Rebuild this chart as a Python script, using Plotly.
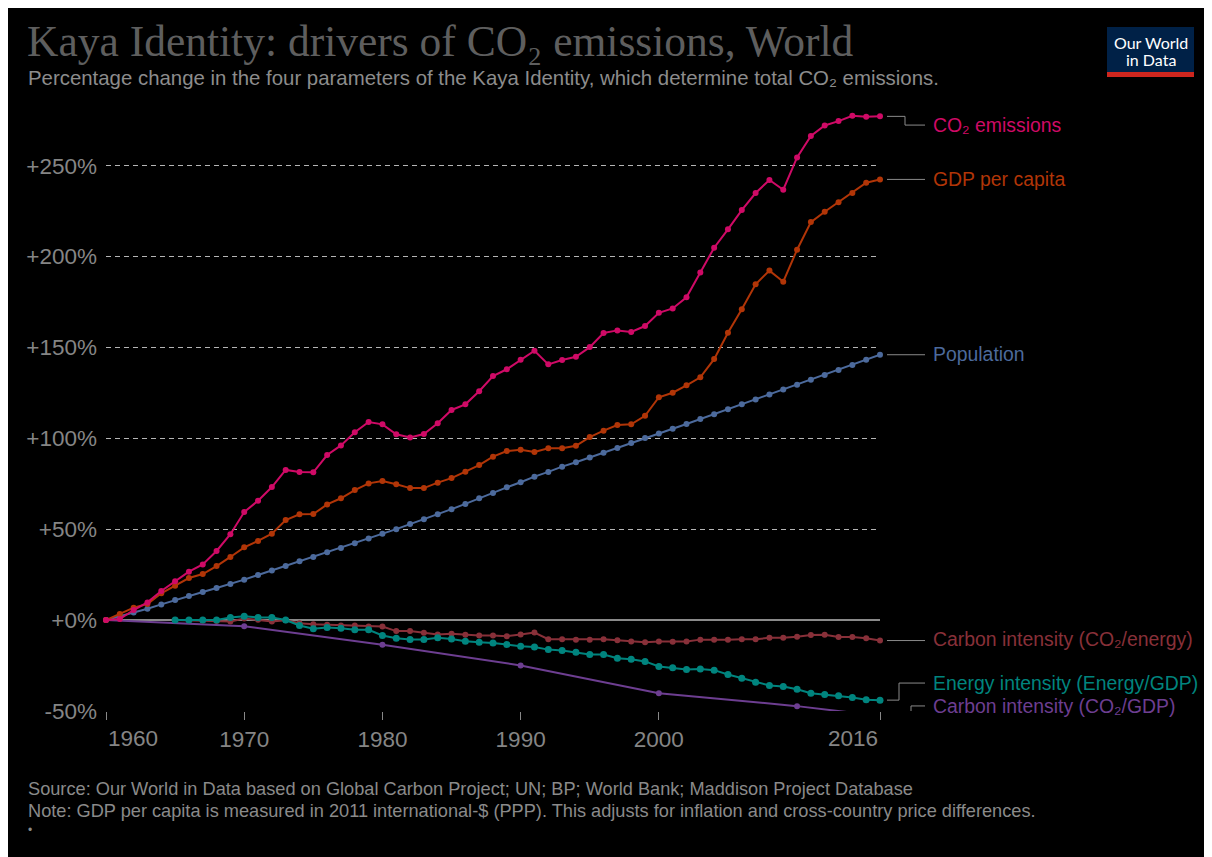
import plotly.graph_objects as go

# ---------------- data (percentage change relative to first year) ----------------
years = list(range(1960, 2017))
co2_emissions = [0, 0.5, 5.5, 9.7, 16.0, 21.3, 26.6, 30.6, 38.0, 47.2,
                 59.4, 65.7, 73.2, 82.6, 81.5, 81.3, 90.8, 96.1, 103.3, 109.0,
                 107.7, 102.2, 100.5, 102.4, 108.3, 115.6, 118.7, 125.9, 134.3, 138.0,
                 143.3, 148.2, 140.7, 143.1, 144.9, 150.2, 158.0, 159.4, 158.5, 161.8,
                 169.1, 171.5, 177.6, 191.3, 204.9, 215.0, 225.6, 235.0, 242.2, 236.8,
                 254.6, 266.4, 272.2, 274.6, 277.5, 277.0, 277.2]
gdp_per_capita = [0, 3.3, 6.8, 8.8, 14.7, 18.9, 23.1, 25.3, 29.7, 34.7,
                  40.0, 43.5, 47.5, 55.0, 58.2, 58.3, 63.6, 67.0, 71.5, 75.2,
                  76.5, 74.7, 72.6, 72.6, 75.6, 78.1, 81.6, 85.3, 89.9, 93.0,
                  93.7, 92.5, 94.5, 94.5, 95.9, 100.7, 104.2, 107.3, 107.7, 112.4,
                  122.6, 125.1, 129.2, 133.6, 143.6, 158.1, 171.0, 184.8, 192.3, 186.2,
                  203.8, 219.0, 224.7, 229.9, 235.0, 240.7, 242.5]
population = [0, 2.0, 4.2, 6.2, 8.6, 11.0, 13.2, 15.4, 17.6, 19.8,
              22.2, 24.8, 27.3, 29.7, 32.3, 34.7, 37.3, 39.7, 42.2, 44.8,
              47.5, 50.0, 52.8, 55.4, 58.2, 61.0, 63.9, 67.0, 69.9, 73.0,
              75.8, 78.9, 81.5, 84.4, 86.8, 89.5, 92.1, 94.7, 97.4, 100.2,
              102.7, 105.3, 107.9, 110.6, 113.2, 116.0, 118.7, 121.4, 124.1, 126.8,
              129.5, 132.2, 134.9, 137.6, 140.3, 143.2, 146.0]

energy_years = list(range(1965, 2017))
carbon_intensity_energy = [0, -0.2, -0.3, -0.5, -0.8, 0.8, 0.2, -0.8, -0.2, -1.8,
                           -2.4, -2.6, -3.0, -3.0, -3.6, -3.6, -6.1, -6.1, -7.0, -8.0,
                           -7.6, -8.1, -8.5, -8.5, -8.9, -8.0, -6.9, -10.6, -10.6, -10.8,
                           -10.8, -10.6, -11.1, -11.8, -12.2, -11.8, -12.0, -11.8, -10.8, -10.9,
                           -10.9, -10.6, -10.6, -9.8, -9.8, -9.2, -8.3, -8.1, -9.4, -9.4,
                           -10.0, -11.3]
energy_intensity = [0, 0, 0, 0, 1.4, 2.0, 1.4, 1.4, 0, -3.0,
                    -4.8, -4.1, -4.6, -5.4, -5.4, -8.5, -10.0, -10.7, -10.7, -9.8,
                    -10.4, -11.7, -12.2, -12.6, -13.5, -14.4, -14.8, -16.3, -16.8, -17.7,
                    -19.0, -19.0, -21.0, -21.6, -22.8, -25.6, -26.3, -27.3, -26.9, -27.6,
                    -30.0, -32.0, -34.2, -36.0, -36.6, -38.1, -40.3, -41.0, -41.7, -42.7,
                    -43.9, -44.1]

cgdp_years = [1960, 1970, 1980, 1990, 2000, 2010, 2016]
carbon_intensity_gdp = [0, -3.4, -13.6, -25.0, -40.3, -47.4, -52.8]

y_tick_vals = [-50, 0, 50, 100, 150, 200, 250]
y_tick_text = ["-50%", "+0%", "+50%", "+100%", "+150%", "+200%", "+250%"]
x_tick_vals = [1960, 1970, 1980, 1990, 2000, 2016]
x_tick_text = ["", "1970", "1980", "1990", "2000", ""]

series_names = ["CO₂ emissions", "GDP per capita", "Population",
                "Carbon intensity (CO₂/energy)", "Energy intensity (Energy/GDP)",
                "Carbon intensity (CO₂/GDP)"]
colors = ["#CF0A66", "#B13507", "#4C6A9C", "#883039", "#00847E", "#6D3E91"]

# ---------------- geometry helpers ----------------
# page body has an 8px margin, so the figure is drawn at (8, 8) in the screenshot
OFF = 8
W, H = 1212 - OFF, 857 - OFF
ML, MT = 106 - OFF, 108 - OFF
PW, PH = 774, 603
MR, MB = W - ML - PW, H - MT - PH
Y0, Y1 = -50.08, 281.8
SANS = "Liberation Sans, Arial"


def px(x):  # screenshot x pixel -> paper
    return (x - OFF - ML) / PW


def py(y):  # screenshot y pixel -> paper
    return (MT + PH - (y - OFF)) / PH


fig = go.Figure()

traces = [
    (cgdp_years, carbon_intensity_gdp, 5, 6),
    (energy_years, carbon_intensity_energy, 3, 6),
    (energy_years, energy_intensity, 4, 7),
    (years, population, 2, 6),
    (years, gdp_per_capita, 1, 6),
    (years, co2_emissions, 0, 6),
]
for xs, ys, idx, ms in traces:
    fig.add_trace(go.Scatter(
        x=xs, y=ys, mode="lines+markers", name=series_names[idx],
        line=dict(color=colors[idx], width=2),
        marker=dict(color=colors[idx], size=ms),
        cliponaxis=False, showlegend=False,
    ))

# ---------------- end labels ----------------
label_y = [272.4, 242.7, 146.4, -10.5, -34.7, -47.3]
end_vals = [co2_emissions[-1], gdp_per_capita[-1], population[-1],
            carbon_intensity_energy[-1], energy_intensity[-1], carbon_intensity_gdp[-1]]
elbow_x = [905, None, None, None, 899, 911]
shapes = []
for i, name in enumerate(series_names):
    fig.add_annotation(x=px(931), xref="paper", y=label_y[i], yref="y",
                       text=name, showarrow=False, xanchor="left", yanchor="middle",
                       font=dict(family=SANS, size=19.4, color=colors[i]))
    x0, x1 = px(887), px(925)
    if elbow_x[i] is None:
        path = f"M {x0},{end_vals[i]} L {x1},{end_vals[i]}"
    else:
        xe = px(elbow_x[i])
        path = (f"M {x0},{end_vals[i]} L {xe},{end_vals[i]} "
                f"L {xe},{label_y[i]} L {x1},{label_y[i]}")
    shapes.append(dict(type="path", xref="paper", yref="y", path=path,
                       line=dict(color="#8a8a8a", width=1)))

# logo
shapes.append(dict(type="rect", xref="paper", yref="paper",
                   x0=px(1107), x1=px(1194), y0=py(72), y1=py(27),
                   fillcolor="#002147", line=dict(width=0)))
shapes.append(dict(type="rect", xref="paper", yref="paper",
                   x0=px(1107), x1=px(1194), y0=py(77), y1=py(72),
                   fillcolor="#CE261E", line=dict(width=0)))
fig.add_annotation(x=px(1150.5), y=py(42), xref="paper", yref="paper", text="Our World",
                   showarrow=False, xanchor="center", yanchor="middle",
                   font=dict(family="Lato, Liberation Sans", size=16, color="white"))
fig.add_annotation(x=px(1150.5), y=py(60), xref="paper", yref="paper", text="in Data",
                   showarrow=False, xanchor="center", yanchor="middle",
                   font=dict(family="Lato, Liberation Sans", size=16, color="white"))

# title / subtitle / footer
fig.add_annotation(x=px(25), y=py(41), xref="paper", yref="paper",
                   text="Kaya Identity: drivers of CO₂ emissions, World",
                   showarrow=False, xanchor="left", yanchor="middle",
                   font=dict(family="Liberation Serif, DejaVu Serif", size=43.5, color="#5e5e5e"))
fig.add_annotation(x=px(26), y=py(78.5), xref="paper", yref="paper",
                   text="Percentage change in the four parameters of the Kaya Identity, which determine total CO₂ emissions.",
                   showarrow=False, xanchor="left", yanchor="middle",
                   font=dict(family=SANS, size=20.4, color="#8c8c8c"))
fig.add_annotation(x=px(26), y=py(789), xref="paper", yref="paper",
                   text="Source: Our World in Data based on Global Carbon Project; UN; BP; World Bank; Maddison Project Database",
                   showarrow=False, xanchor="left", yanchor="middle",
                   font=dict(family=SANS, size=18.2, color="#8a8a8a"))
fig.add_annotation(x=px(26), y=py(811), xref="paper", yref="paper",
                   text="Note: GDP per capita is measured in 2011 international-$ (PPP). This adjusts for inflation and cross-country price differences.",
                   showarrow=False, xanchor="left", yanchor="middle",
                   font=dict(family=SANS, size=18.2, color="#8a8a8a"))
fig.add_annotation(x=px(26), y=py(830), xref="paper", yref="paper", text="•",
                   showarrow=False, xanchor="left", yanchor="middle",
                   font=dict(family=SANS, size=12, color="#8a8a8a"))

# edge year labels (offset inward like the original)
fig.add_annotation(x=1960, xref="x", y=py(738), yref="paper", text="1960",
                   showarrow=False, xanchor="left", yanchor="middle",
                   font=dict(family=SANS, size=22.5, color="#858585"))
fig.add_annotation(x=2016, xref="x", y=py(738), yref="paper", text="2016",
                   showarrow=False, xanchor="right", yanchor="middle",
                   font=dict(family=SANS, size=22.5, color="#858585"))

fig.update_layout(
    width=W, height=H,
    margin=dict(l=ML, r=MR, t=MT, b=MB, autoexpand=False),
    paper_bgcolor="black", plot_bgcolor="black",
    shapes=shapes, hovermode="closest",
    xaxis=dict(range=[1960, 2016], tickvals=x_tick_vals, ticktext=x_tick_text,
               showgrid=False, zeroline=False, showline=False,
               ticks="outside", ticklen=8, tickwidth=1, tickcolor="#888888",
               tickfont=dict(family=SANS, size=22.5, color="#858585")),
    yaxis=dict(range=[Y0, Y1], tickvals=y_tick_vals, ticktext=y_tick_text,
               showgrid=True, gridcolor="#b5b5b5", gridwidth=1.3, griddash="5px,4px",
               zeroline=True, zerolinecolor="#8a8a8a", zerolinewidth=2,
               showline=False, ticks="", ticklabelstandoff=8,
               tickfont=dict(family=SANS, size=22.5, color="#858585")),
)

fig.write_html("out.html")
